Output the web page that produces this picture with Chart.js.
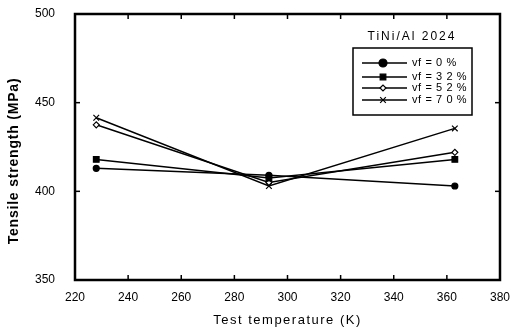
<!DOCTYPE html>
<html>
<head>
<meta charset="utf-8">
<script src="https://cdn.jsdelivr.net/npm/chart.js@4.4.1/dist/chart.umd.min.js"></script>
<style>
  html, body { margin: 0; padding: 0; background: #fff; }
  #wrap { width: 512px; height: 331px; }
</style>
</head>
<body>
<div id="wrap"><canvas id="c" width="512" height="331"></canvas></div>
<script>
const temps = [228, 293, 363];
const vf0 = [413, 409, 403];
const vf32 = [418, 407.5, 418];
const vf52 = [437.5, 405, 422];
const vf70 = [441.5, 403, 435.5];
const seriesNames = ["vf = 0 %", "vf = 3 2 %", "vf = 5 2 %", "vf = 7 0 %"];
const xTicks = [220, 240, 260, 280, 300, 320, 340, 360, 380];
const yTicks = [350, 400, 450, 500];
const legendTitle = "TiNi/Al 2024";

const FONT = "'Liberation Sans', Arial, sans-serif";

function ds(label, vals, style, radius, fill) {
  return {
    label: label,
    data: temps.map((t, i) => ({ x: t, y: vals[i] })),
    borderColor: "#000",
    backgroundColor: fill,
    borderWidth: 1.5,
    pointStyle: style,
    pointRadius: radius,
    pointBorderColor: "#000",
    pointBackgroundColor: fill,
    pointBorderWidth: 1.2,
    tension: 0,
  };
}

const datasets = [
  ds(seriesNames[0], vf0, "circle", 3, "#000"),
  ds(seriesNames[1], vf32, "rect", 4, "#000"),
  ds(seriesNames[2], vf52, "rectRot", 3, "#fff"),
  ds(seriesNames[3], vf70, "crossRot", 4, "#000"),
];

// frame, inward ticks, titles and the boxed legend
const decor = {
  id: "decor",
  afterDraw(chart) {
    const ctx = chart.ctx;
    const a = chart.chartArea;
    const xs = chart.scales.x, ys = chart.scales.y;
    ctx.save();
    ctx.strokeStyle = "#000";
    ctx.lineWidth = 1.5;
    xTicks.forEach(v => {
      const px = xs.getPixelForValue(v);
      ctx.beginPath(); ctx.moveTo(px, a.bottom); ctx.lineTo(px, a.bottom - 5); ctx.stroke();
      ctx.beginPath(); ctx.moveTo(px, a.top); ctx.lineTo(px, a.top + 5); ctx.stroke();
    });
    yTicks.forEach(v => {
      const py = ys.getPixelForValue(v);
      ctx.beginPath(); ctx.moveTo(a.left, py); ctx.lineTo(a.left + 5, py); ctx.stroke();
      ctx.beginPath(); ctx.moveTo(a.right, py); ctx.lineTo(a.right - 5, py); ctx.stroke();
    });
    ctx.lineWidth = 2.5;
    ctx.strokeRect(a.left, a.top, a.right - a.left, a.bottom - a.top);

    // axis titles
    ctx.fillStyle = "#000";
    ctx.textAlign = "center";
    ctx.textBaseline = "middle";
    ctx.font = "13px " + FONT;
    ctx.letterSpacing = "1.5px";
    ctx.fillText("Test temperature (K)", (a.left + a.right) / 2, 320);
    ctx.save();
    ctx.translate(14, 161);
    ctx.rotate(-Math.PI / 2);
    ctx.font = "bold 14px " + FONT;
    ctx.letterSpacing = "0.8px";
    ctx.fillText("Tensile strength (MPa)", 0, 0);
    ctx.restore();

    // legend
    ctx.font = "12px " + FONT;
    ctx.letterSpacing = "2px";
    ctx.fillText(legendTitle, 412, 37);
    const bx = 353, by = 48, bw = 119, bh = 67;
    ctx.lineWidth = 1.5;
    ctx.strokeRect(bx, by, bw, bh);
    ctx.font = "11px " + FONT;
    ctx.letterSpacing = "0.6px";
    ctx.textAlign = "left";
    const rows = [63, 77, 88, 100];
    datasets.forEach((d, i) => {
      const y = rows[i];
      ctx.lineWidth = 1.5;
      ctx.strokeStyle = "#000";
      ctx.beginPath(); ctx.moveTo(362, y); ctx.lineTo(407, y); ctx.stroke();
      ctx.fillStyle = d.pointBackgroundColor;
      ctx.lineWidth = 1.2;
      Chart.helpers.drawPoint(ctx, {
        pointStyle: d.pointStyle, radius: i < 2 ? 4 : d.pointRadius, borderWidth: 1.2
      }, 383, y);
      ctx.fillStyle = "#000";
      ctx.fillText(d.label, 412, y);
    });
    ctx.restore();
  },
};

new Chart(document.getElementById("c"), {
  type: "line",
  data: { datasets: datasets },
  options: {
    responsive: false,
    animation: false,
    layout: { padding: { left: 0, right: 0, top: 14, bottom: 0 } },
    plugins: { legend: { display: false }, tooltip: { enabled: false } },
    scales: {
      x: {
        type: "linear",
        min: 220, max: 380,
        afterBuildTicks: s => { s.ticks = xTicks.map(v => ({ value: v })); },
        afterFit: s => { s.height = 51; },
        grid: { display: false },
        border: { display: false },
        ticks: { color: "#000", font: { family: FONT, size: 12 }, padding: 2, maxRotation: 0 },
      },
      y: {
        min: 350, max: 500,
        afterBuildTicks: s => { s.ticks = yTicks.map(v => ({ value: v })); },
        afterFit: s => { s.width = 75; s.paddingTop = 0; s.paddingBottom = 0; },
        grid: { display: false },
        border: { display: false },
        ticks: { color: "#000", font: { family: FONT, size: 12, lineHeight: 0.6 }, padding: 12 },
      },
    },
  },
  plugins: [decor],
});
</script>
</body>
</html>
